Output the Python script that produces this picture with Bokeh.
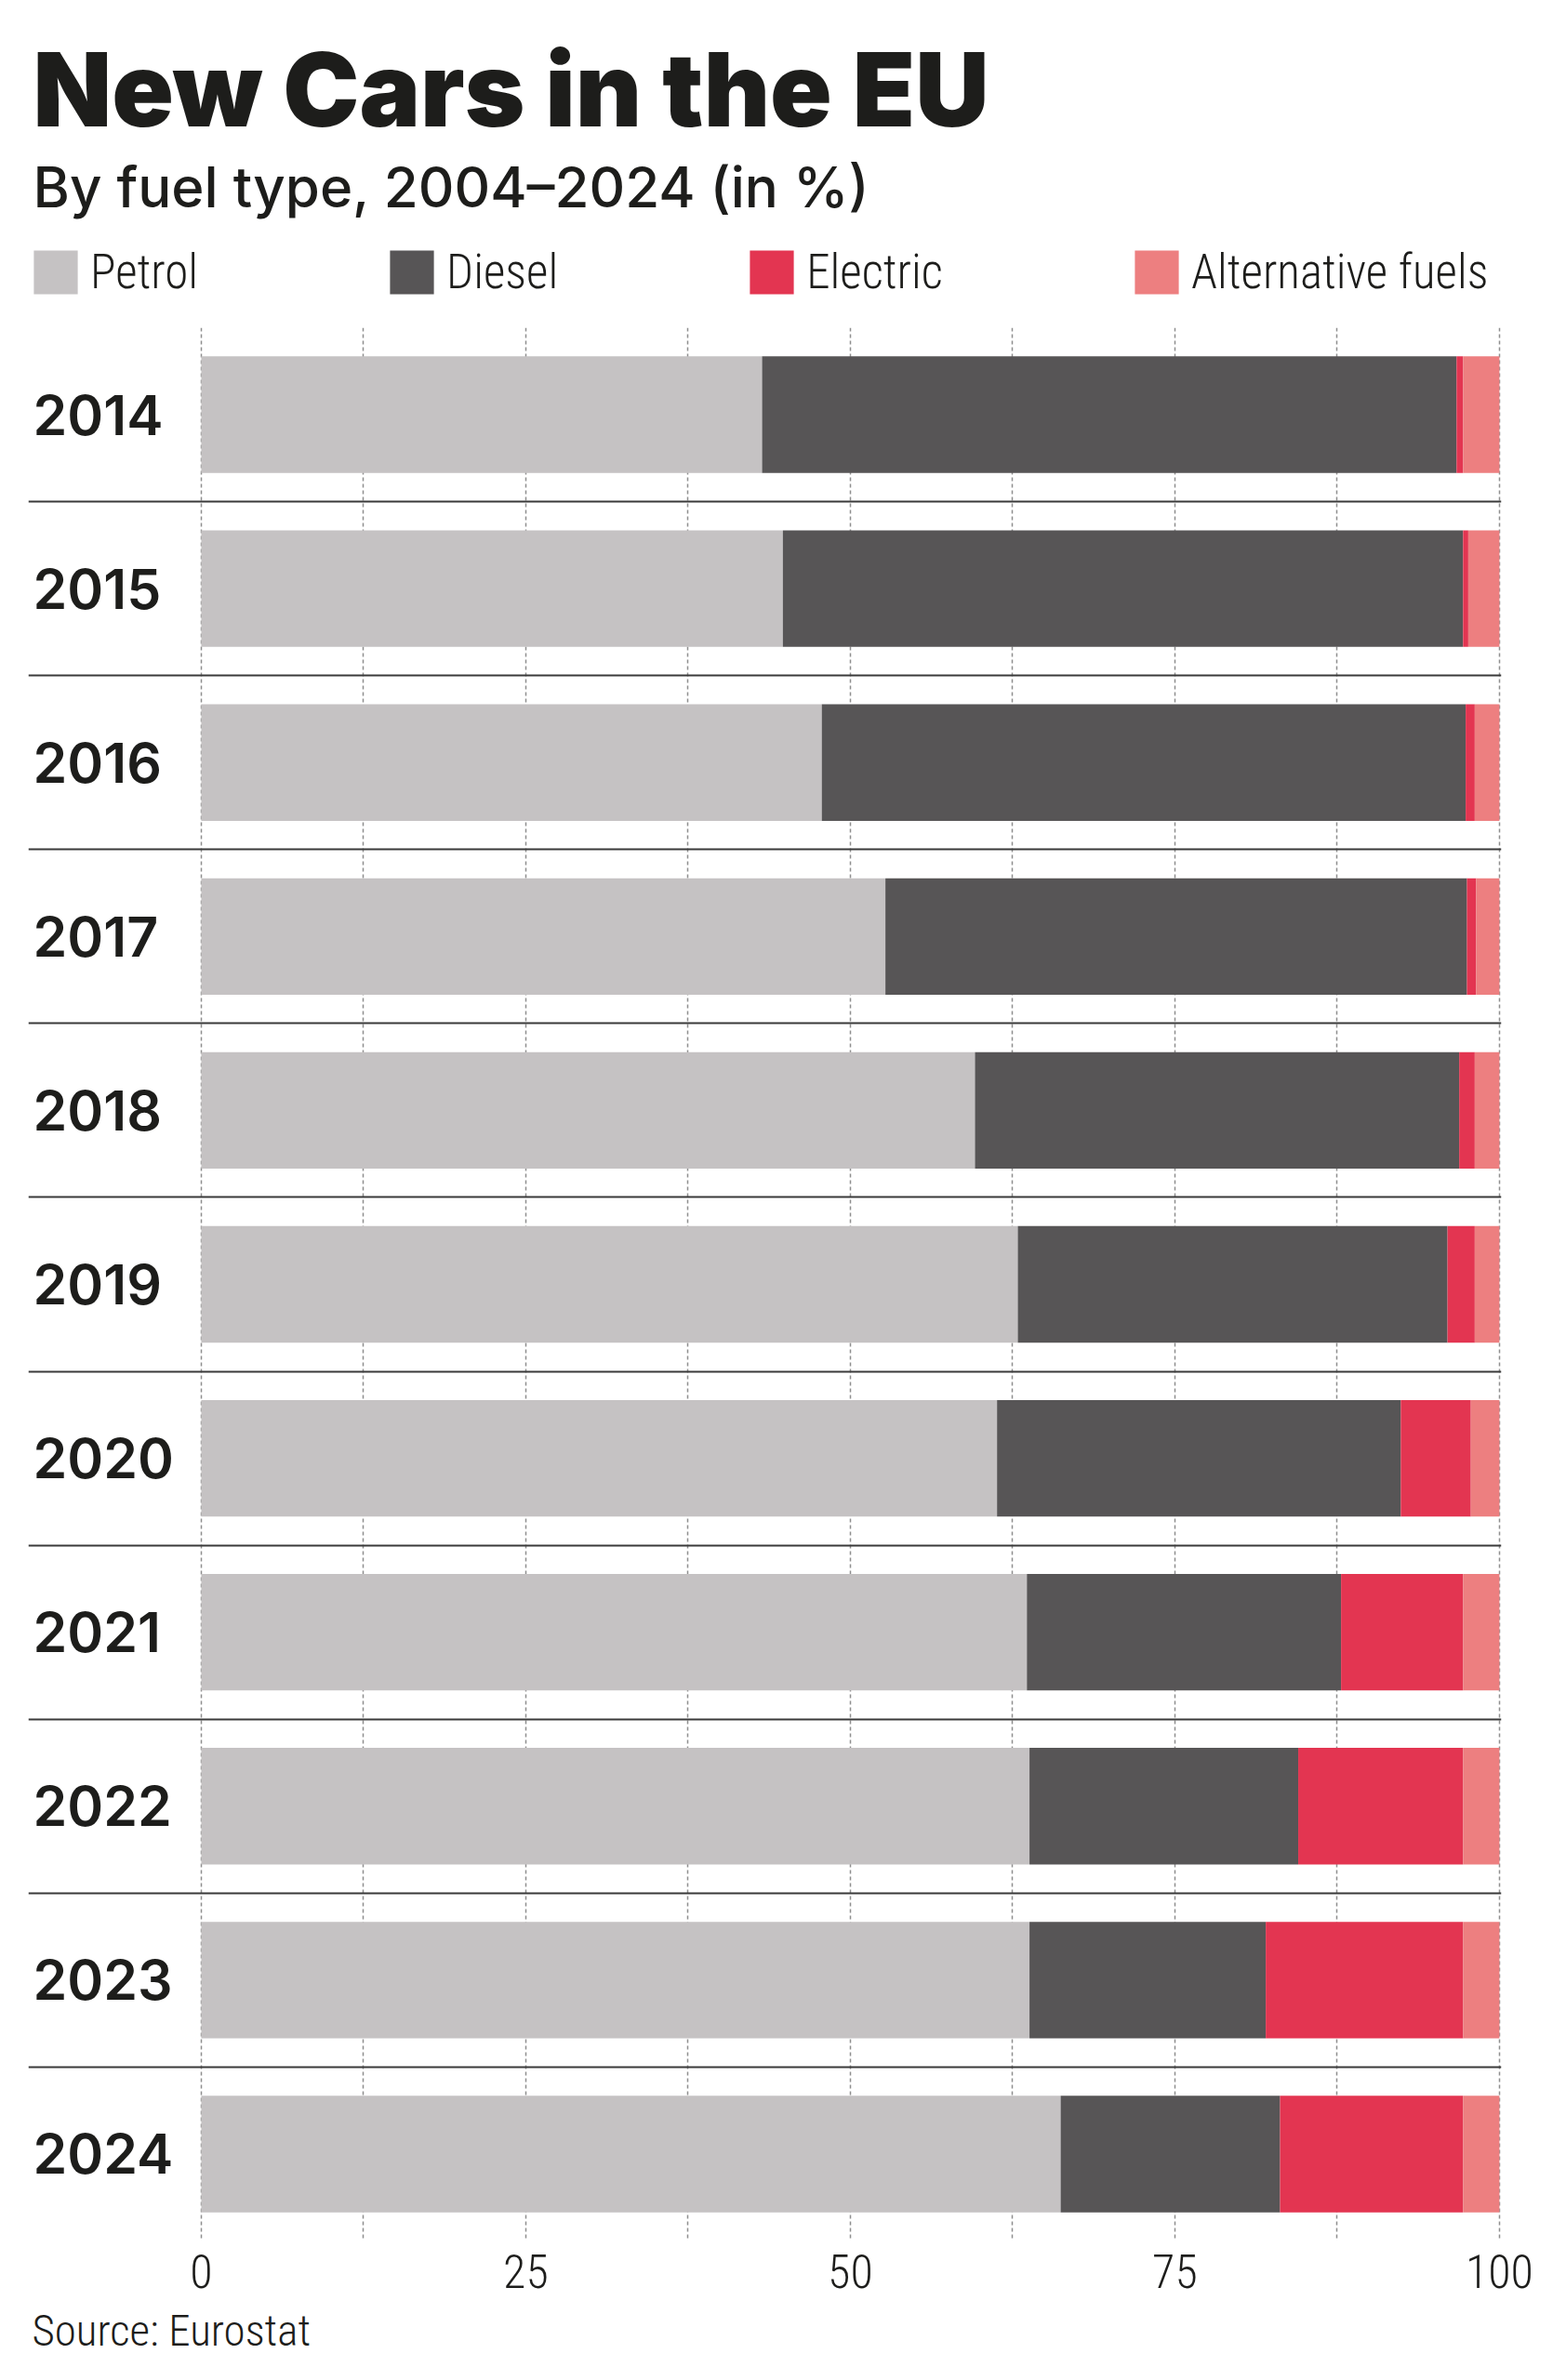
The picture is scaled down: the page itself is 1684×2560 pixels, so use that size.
from bokeh.plotting import figure
from bokeh.layouts import column
from bokeh.models import (Range1d, FixedTicker, Title, Legend, LegendItem,
                          ColumnDataSource, Label)
from bokeh.core.properties import value
from bokeh.embed import file_html
from bokeh.resources import INLINE

# ---- data (shares in %) ----
years = ["2014", "2015", "2016", "2017", "2018", "2019",
         "2020", "2021", "2022", "2023", "2024"]
petrol = [43.2, 44.8, 47.8, 52.7, 59.6, 62.9, 61.3, 63.6, 63.8, 63.8, 66.2]
diesel = [53.5, 52.4, 49.6, 44.8, 37.3, 33.1, 31.1, 24.2, 20.7, 18.2, 16.9]
electric = [0.5, 0.4, 0.7, 0.7, 1.2, 2.1, 5.4, 9.4, 12.7, 15.2, 14.1]
alternative = [2.8, 2.4, 1.9, 1.8, 1.9, 1.9, 2.2, 2.8, 2.8, 2.8, 2.8]

series_names = ["Petrol", "Diesel", "Electric", "Alternative fuels"]
x_tick_values = [0, 25, 50, 75, 100]
grid_tick_values = [0, 12.5, 25, 37.5, 50, 62.5, 75, 87.5, 100]

# ---- style ----
colors = ["#c5c2c3", "#575556", "#e33551", "#ed7f80"]
TEXT = "#1d1d1b"
COND = "'Roboto Condensed Light', 'Roboto Condensed', 'Liberation Sans Narrow', 'Roboto Light', Roboto"
W = 1668
HEAD_H = 352
CHART_H = 2200
BORDER_L = 30
BORDER_R = 54

# ================= header (title, subtitle, legend) =================
# header uses pixel-like coordinates: x = page px, y = px from top
head = figure(width=W, height=HEAD_H,
              x_range=Range1d(BORDER_L, W - BORDER_R),
              y_range=Range1d(HEAD_H, 0), output_backend="svg",
              toolbar_location=None, x_axis_location=None,
              y_axis_location=None, min_border=0,
              min_border_left=BORDER_L, min_border_right=BORDER_R,
              min_border_top=0, min_border_bottom=0)
head.outline_line_color = None
head.grid.visible = False

head.add_layout(Label(x=35, y=95, text="New Cars in the EU",
                      text_font="'Inter Black', 'Inter ExtraBold', Inter",
                      text_font_style="bold", text_font_size="110px",
                      text_color=TEXT, text_baseline="middle"))
head.add_layout(Label(x=35, y=200, text="By fuel type, 2004\u20132024 (in %)",
                      text_font="'Inter Medium', Inter",
                      text_font_style="normal", text_font_size="60px",
                      text_color=TEXT, text_baseline="middle"))

# zero-size swatch renderers that only feed the legend
swatches = [head.hbar(y=[0], left=[0], right=[0], height=0, color=c,
                      line_color=None) for c in colors]
legend = Legend(items=[LegendItem(label=series_names[i], renderers=[swatches[i]])
                       for i in range(4)],
                orientation="horizontal", spacing=200,
                glyph_width=59, glyph_height=59, label_height=59,
                label_standoff=8, label_text_font=COND,
                label_text_font_size="51px", label_text_color=TEXT,
                border_line_color=None, background_fill_alpha=0,
                padding=0, margin=0, location=(0, 30))
head.add_layout(legend)

# ================= chart =================
n = len(years)
source = ColumnDataSource(dict(
    idx=list(range(n)), year=years,
    petrol=petrol, diesel=diesel, electric=electric, alternative=alternative,
))

X_START = -13.32
p = figure(width=W, height=CHART_H,
           x_range=Range1d(X_START, 100.15),
           y_range=Range1d(n - 0.5, -0.5),
           output_backend="svg", toolbar_location=None,
           min_border_left=BORDER_L, min_border_right=BORDER_R,
           min_border_top=0, min_border_bottom=142)
p.outline_line_color = None
p.background_fill_color = "white"
p.border_fill_color = "white"

renderers = p.hbar_stack(["petrol", "diesel", "electric", "alternative"],
                         y="idx", height=0.67, color=colors, line_color=None,
                         source=source)

# year labels
p.text(x=X_START, y="idx", text="year", source=source,
       x_offset=5, text_align="left", text_baseline="middle",
       text_font=value("'Inter SemiBold', Inter"), text_font_style="bold",
       text_font_size="59px", text_color=TEXT)

# axes
p.yaxis.visible = False
p.xaxis.ticker = FixedTicker(ticks=x_tick_values)
p.xaxis.axis_line_color = None
p.xaxis.major_tick_line_color = None
p.xaxis.minor_tick_line_color = None
p.xaxis.major_label_text_font = COND
p.xaxis.major_label_text_font_size = "50px"
p.xaxis.major_label_text_color = TEXT
p.xaxis.major_label_standoff = 8

# vertical dashed grid, horizontal separators
p.xgrid.ticker = FixedTicker(ticks=grid_tick_values)
p.xgrid.grid_line_color = "#8f8f8f"
p.xgrid.grid_line_dash = "4 3"
p.xgrid.grid_line_width = 1.5
p.ygrid.ticker = FixedTicker(ticks=[i + 0.5 for i in range(n - 1)])
p.ygrid.grid_line_color = "#3a3a3a"
p.ygrid.grid_line_width = 2

src = Title(text="Source: Eurostat", align="left", offset=4,
            text_font=COND, text_font_style="normal",
            text_font_size="47px", text_color=TEXT, standoff=26)
p.add_layout(src, "below")

layout = column(head, p, spacing=0)
open("out.html", "w").write(file_html(layout, INLINE))
